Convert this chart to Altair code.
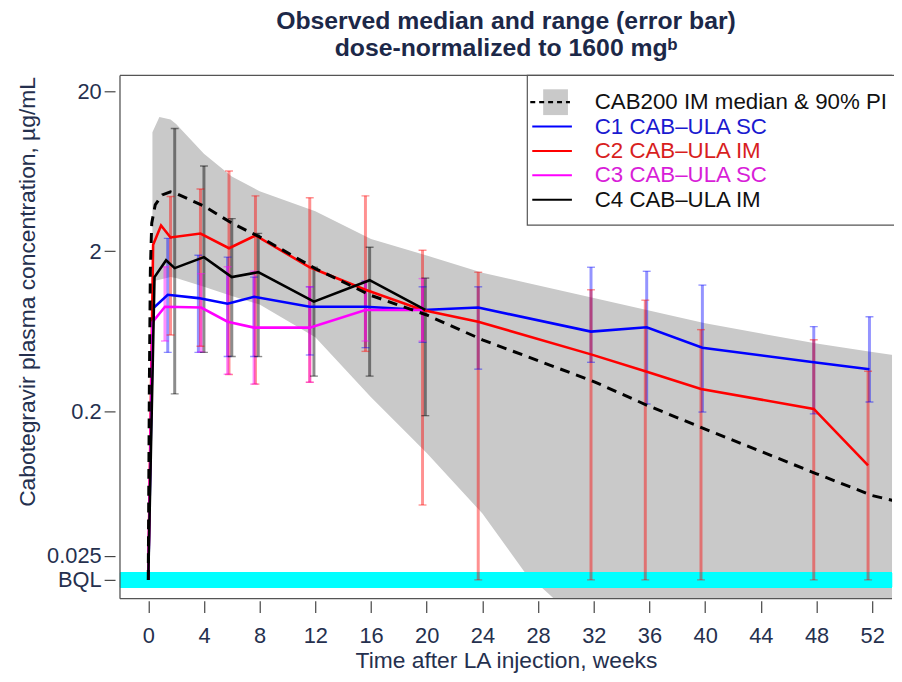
import altair as alt
import pandas as pd

BQL = 0.0177

# ---- CAB200 IM model: median and 90% PI ----
pi_weeks = [0.3, 0.8, 1.6, 2, 4, 6, 8, 12, 16, 20, 24, 27, 32, 40, 48, 52, 53.5]
pi_upper = [11.1, 13.8, 13.3, 12.5, 8.15, 5.87, 4.74, 3.56, 2.39, 1.88, 1.47, 1.28, 1.02, 0.71, 0.53, 0.47, 0.45]
pi_lower = [1.30, 1.33, 1.38, 1.36, 1.20, 1.05, 0.93, 0.58, 0.245, 0.11, 0.046, 0.020, 0.008, 0.002, 0.0007, 0.0005, 0.0004]

med_weeks = [0, 0.08, 0.15, 0.25, 0.5, 1.0, 1.6, 2, 4, 6, 8, 12, 16, 20, 24, 32, 36, 40, 48, 52, 53.5]
med_values = [BQL, 0.3, 1.5, 3.0, 3.9, 4.5, 4.7, 4.6, 3.83, 3.0, 2.46, 1.56, 1.06, 0.80, 0.56, 0.307, 0.215, 0.155, 0.0815, 0.0596, 0.0555]

# ---- observed medians ----
c1_weeks = [0, 0.35, 1.4, 3.6, 5.7, 7.6, 11.6, 15.6, 19.7, 23.7, 31.8, 35.8, 39.8, 47.8, 51.8]
c1_med = [BQL, 0.88, 1.07, 1.02, 0.94, 1.04, 0.90, 0.90, 0.86, 0.89, 0.63, 0.67, 0.50, 0.405, 0.367]
c1_lo = [None, None, 0.467, 0.467, 0.44, 0.44, 0.45, 0.50, 0.54, 0.367, 0.405, 0.2225, 0.198, 0.193, 0.229]
c1_hi = [None, None, 2.41, 1.89, 1.84, 1.38, 1.20, 1.30, 1.20, 1.20, 1.59, 1.50, 1.23, 0.677, 0.78]

c2_weeks = [0, 0.35, 0.92, 1.6, 3.75, 5.8, 7.7, 11.6, 15.6, 19.7, 23.7, 31.8, 35.7, 39.7, 47.8, 51.7]
c2_med = [BQL, 2.2, 2.90, 2.44, 2.58, 2.09, 2.51, 1.59, 1.15, 0.86, 0.726, 0.454, 0.356, 0.276, 0.207, 0.092]
c2_lo = [None, None, None, 0.6, 0.51, 0.34, 0.296, 0.304, 0.474, 0.052, BQL, BQL, BQL, BQL, BQL, BQL]
c2_hi = [None, None, None, 4.4, 4.9, 6.35, 4.44, 4.32, 4.44, 2.03, 1.48, 1.15, 0.99, 0.648, 0.56, 0.356]

c3_weeks = [0, 0.3, 1.2, 3.8, 5.7, 7.6, 11.6, 15.6, 19.7]
c3_med = [BQL, 0.72, 0.90, 0.89, 0.726, 0.667, 0.667, 0.86, 0.86]
c3_lo = [None, None, 0.55, 0.47, 0.341, 0.296, 0.304, 0.55, 0.55]
c3_hi = [None, None, 1.6, 1.45, 1.6, 1.5, 1.2, 1.3, 1.35]

c4_weeks = [0, 0.45, 1.28, 1.9, 4.0, 6.0, 7.9, 11.9, 15.9, 19.9]
c4_med = [BQL, 1.38, 1.76, 1.57, 1.84, 1.38, 1.48, 0.97, 1.32, 0.86]
c4_lo = [None, None, None, 0.257, 0.467, 0.44, 0.44, 0.332, 0.332, 0.188]
c4_hi = [None, None, None, 11.7, 6.82, 3.2, 2.59, 1.59, 2.12, 1.36]

cohorts = ["C1", "C2", "C3", "C4"]
cohort_colors = ["#0000ff", "#ff0000", "#ff00ff", "#000000"]
legend_labels = ["CAB200 IM median & 90% PI", "C1 CAB\u2013ULA SC", "C2 CAB\u2013ULA IM",
                 "C3 CAB\u2013ULA SC", "C4 CAB\u2013ULA IM"]
legend_text_colors = ["#111111", "#1a1ad0", "#d81e1e", "#d81ed8", "#111111"]

x_ticks = list(range(0, 53, 4))
y_ticks = [20, 2, 0.2, 0.025, BQL]

# ---- build tables ----
pi_df = pd.DataFrame({"week": pi_weeks, "value": pi_lower, "hi": pi_upper})
med_df = pd.DataFrame({"week": med_weeks, "value": med_values})

rows = []
for name, wk, md, lo, hi in [("C1", c1_weeks, c1_med, c1_lo, c1_hi),
                             ("C2", c2_weeks, c2_med, c2_lo, c2_hi),
                             ("C3", c3_weeks, c3_med, c3_lo, c3_hi),
                             ("C4", c4_weeks, c4_med, c4_lo, c4_hi)]:
    for i in range(len(wk)):
        rows.append({"cohort": name, "week": wk[i], "value": md[i], "lo": lo[i], "hi": hi[i], "order": i})
obs_df = pd.DataFrame(rows)
bar_df = obs_df.dropna(subset=["lo", "hi"]).copy()
cap_df = pd.concat([
    bar_df[["cohort", "week", "lo"]].rename(columns={"lo": "value"}),
    bar_df[["cohort", "week", "hi"]].rename(columns={"hi": "value"}),
])

# ---- layout ----
W, H = 779, 528
X_DOMAIN = [-2.03, 53.42]
Y_DOMAIN = [0.01351, 25.1]
FONT = "Liberation Sans"
NAVY = "#25304e"

xs = alt.Scale(domain=X_DOMAIN, nice=False, zero=False)
ys = alt.Scale(type="log", domain=Y_DOMAIN, nice=False)

X_AX = alt.Axis(values=x_ticks, title="Time after LA injection, weeks", domain=False, grid=False,
                offset=2, tickSize=12, tickColor="#444", tickWidth=1.2,
                labelFontSize=22, labelFont=FONT, labelColor=NAVY, labelPadding=13,
                labelOverlap=False, labelFlush=False,
                titleFontSize=23, titleFont=FONT, titleColor=NAVY, titleFontWeight="normal",
                titleY=60, titleBaseline="middle")
Y_AX = alt.Axis(values=y_ticks,
                labelExpr="datum.value < 0.02 ? 'BQL' : format(datum.value, '~g')",
                title="Cabotegravir plasma concentration, \u00b5g/mL", domain=False, grid=False,
                offset=5, tickSize=11, tickColor="#444", tickWidth=1.2,
                labelFontSize=22, labelFont=FONT, labelColor=NAVY, labelPadding=3,
                labelOverlap=False, labelBound=False,
                titleFontSize=23, titleFont=FONT, titleColor=NAVY, titleFontWeight="normal",
                titleX=-88, titleY=218, titleAngle=-90, titleAlign="center", titleBaseline="middle")

def X(field="week"):
    return alt.X(f"{field}:Q", scale=xs, axis=X_AX)

def Y(field="value"):
    return alt.Y(f"{field}:Q", scale=ys, axis=Y_AX)

color_scale = alt.Scale(domain=cohorts, range=cohort_colors)

band = alt.Chart(pi_df).mark_area(color="#c9c9c9", clip=True).encode(
    x=X(), y=Y(), y2="hi:Q")

bql_band = alt.Chart(pi_df).mark_rule(color="#00ffff", strokeWidth=15).encode(
    x=alt.value(0), x2=alt.value(W),
    y=alt.Y(datum=BQL, type="quantitative", scale=ys, axis=Y_AX))

bars = alt.Chart(bar_df).mark_rule(clip=True).encode(
    x=X(), y=alt.Y("lo:Q", scale=ys, axis=Y_AX), y2="hi:Q",
    color=alt.Color("cohort:N", scale=color_scale, legend=None),
    opacity=alt.Opacity("cohort:N", scale=alt.Scale(domain=cohorts, range=[0.42, 0.45, 0.4, 0.75]), legend=None),
    strokeWidth=alt.StrokeWidth("cohort:N", scale=alt.Scale(domain=cohorts, range=[3, 3, 3, 1.4]), legend=None))

caps = alt.Chart(cap_df).mark_tick(orient="horizontal", size=8, thickness=1.4, clip=True).encode(
    x=X(), y=Y(),
    color=alt.Color("cohort:N", scale=color_scale, legend=None),
    opacity=alt.Opacity("cohort:N", scale=alt.Scale(domain=cohorts, range=[0.55, 0.55, 0.5, 0.8]), legend=None))

lines = alt.Chart(obs_df).mark_line(strokeWidth=2.6, clip=True).encode(
    x=X(), y=Y(), order="order:Q",
    color=alt.Color("cohort:N", scale=color_scale, legend=None))

median = alt.Chart(med_df).mark_line(color="black", strokeWidth=3, strokeDash=[10, 7], clip=True).encode(
    x=X(), y=Y())

one = pd.DataFrame({"k": [0]})
frame_color = "#555555"
frame = [
    alt.Chart(one).mark_rule(color=frame_color, strokeWidth=1.3).encode(x=alt.value(0), y=alt.value(0), y2=alt.value(H)),
    alt.Chart(one).mark_rule(color=frame_color, strokeWidth=1.3).encode(x=alt.value(0), x2=alt.value(W), y=alt.value(0)),
    alt.Chart(one).mark_rule(color=frame_color, strokeWidth=1.3).encode(x=alt.value(0), x2=alt.value(W), y=alt.value(H)),
]

# ---- legend ----
row0, step = 27, 24.6
legend_layers = [
    alt.Chart(one).mark_rect(fill="white", stroke=frame_color, strokeWidth=1.2).encode(
        x=alt.value(411), x2=alt.value(W + 10), y=alt.value(0), y2=alt.value(151)),
    alt.Chart(one).mark_rect(fill="#c9c9c9").encode(
        x=alt.value(427), x2=alt.value(452), y=alt.value(row0 - 13), y2=alt.value(row0 + 13)),
    alt.Chart(one).mark_rule(color="black", strokeWidth=2.2, strokeDash=[5, 4]).encode(
        x=alt.value(414), x2=alt.value(454), y=alt.value(row0)),
]
for i in range(1, 5):
    legend_layers.append(
        alt.Chart(one).mark_rule(color=cohort_colors[i - 1], strokeWidth=2).encode(
            x=alt.value(416), x2=alt.value(456), y=alt.value(row0 + i * step)))
for i, lab in enumerate(legend_labels):
    legend_layers.append(
        alt.Chart(one).mark_text(align="left", baseline="middle", fontSize=22.5, font=FONT,
                                 color=legend_text_colors[i]).encode(
            x=alt.value(479), y=alt.value(row0 + i * step), text=alt.value(lab)))

chart = alt.layer(band, bql_band, bars, caps, lines, median, *frame, *legend_layers).properties(
    width=W, height=H,
    autosize=alt.AutoSizeParams(type="none"),
    padding={"left": 113, "top": 65, "right": 2, "bottom": 80},
    title=alt.TitleParams(text=["Observed median and range (error bar)", "dose-normalized to 1600 mg\u1d47"],
                          fontSize=25, fontWeight="bold", font=FONT, color="#1c2848",
                          lineHeight=27, anchor="middle", offset=14),
    background="white",
).configure_view(stroke=None)

chart.save("out.html", embed_options={"renderer": "svg", "actions": False})
